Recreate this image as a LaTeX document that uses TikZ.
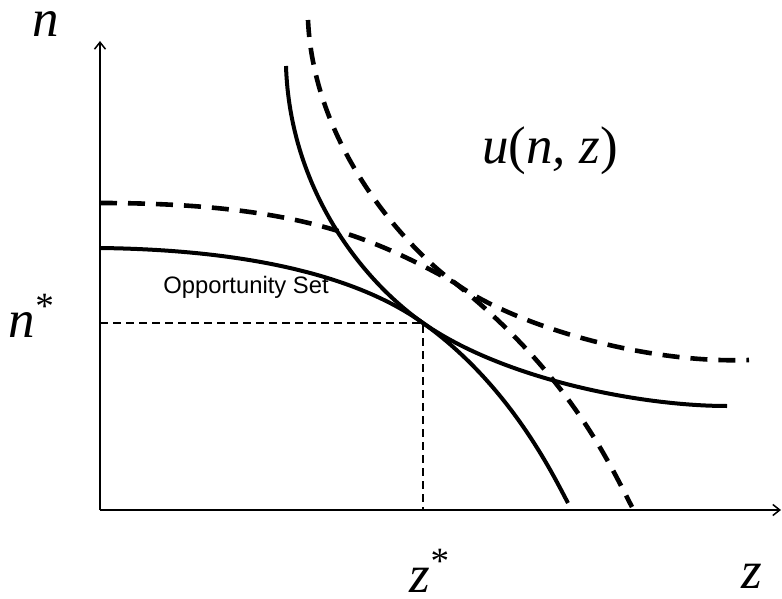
\documentclass[tikz,border=0pt]{standalone}
\usepackage{fontspec}
\setmainfont{Liberation Serif}
\newfontfamily\arialfont{Liberation Sans}
\usetikzlibrary{arrows.meta}

\begin{document}
\begin{tikzpicture}[x=0.5pt,y=-0.5pt,
    axis/.style={line width=0.75pt,-{Straight Barb[length=3.5pt,width=5.5pt]}},
    curve/.style={line width=2pt},
    dcurve/.style={line width=2.3pt,dash pattern=on 8.5pt off 5.5pt},
    guide/.style={line width=1.4pt,dash pattern=on 4pt off 2.5pt},
    lbl/.style={font=\fontsize{26.5}{30}\selectfont\itshape,inner sep=0pt,
        anchor=base,text height=0.5em,text depth=0pt}]

    \useasboundingbox (0,0) rectangle (782,599);

    % 1. Axes
    \coordinate (O) at (100,510);
    \coordinate (ntop) at (100,41);
    \coordinate (zend) at (781,510);
    \draw[axis] (O) -- (ntop);
    \draw[axis] (O) -- (zend);

    % 2. Optimum and guide lines
    \coordinate (P) at (423,323);
    \coordinate (Q) at (455,283);
    \coordinate (nP) at (100,323);
    \coordinate (zP) at (423,510);
    \draw[guide] (nP) -- (P) -- (zP);

    % 3. Indifference curves
    \draw[curve] (286,66) .. controls (290,190) and (363,281) .. (P)
        .. controls (503,379) and (640,406) .. (727,406);
    \draw[dcurve] (308,20) .. controls (314,150) and (410,251) .. (Q)
        .. controls (510,323) and (640,364) .. (749,360);

    % 4. Opportunity sets
    \draw[curve] (100,248) .. controls (260,250) and (363,280) .. (P)
        .. controls (510,385) and (553,475) .. (568,503);
    \draw[dcurve] (100,203) .. controls (300,203) and (375,239) .. (Q)
        .. controls (570,375) and (610,465) .. (632,507);

    % 5. Labels
    \node[lbl] (nlab) at (46,37) {n};
    \node[lbl] (nstar) at (32,337) {n\textsuperscript{\upshape *}};
    \node[lbl] (zstar) at (430,592) {z\textsuperscript{\upshape *}};
    \node[lbl] (zlab) at (752,588) {z};
    \node[lbl] (ulab) at (550,163) {u{\upshape(}n, z{\upshape)}};
    \node[font=\arialfont\fontsize{11.9}{14}\selectfont,inner sep=0pt,anchor=base]
        (opp) at (246,293) {Opportunity Set};

\end{tikzpicture}
\end{document}
